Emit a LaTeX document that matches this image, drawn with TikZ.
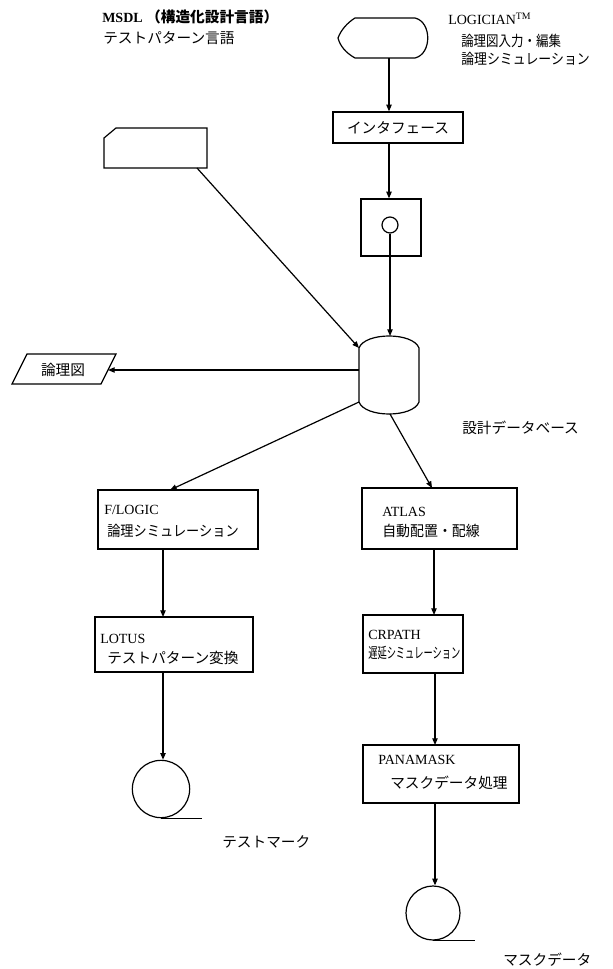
\documentclass[tikz,border=0pt]{standalone}
\usepackage{fontspec}
\usepackage{graphicx}
\setmainfont{Liberation Serif}
\newfontfamily\jp{Noto Sans CJK JP}
\usetikzlibrary{fit,arrows.meta}
\tikzset{
  ln/.style={line width=0.9pt},
  arr/.style={ln,-{Triangle[length=5pt,width=4pt]}},
  box/.style={draw,ln,inner sep=0pt},
  txt/.style={anchor=west,inner sep=0pt,font=\fontsize{10.5}{12}\selectfont},
  ctxt/.style={txt,anchor=center},
  tape/.style={draw,ln,circle,inner sep=0pt},
}
\newcommand{\hx}[2]{\scalebox{#1}[1]{#2}}
\begin{document}
\begin{tikzpicture}[x=0.75pt,y=-0.75pt]
\useasboundingbox (0,0) rectangle (612,969);

% ---- top-left texts
\node[txt] (msdl1) at (102,17) {\bfseries MSDL {\jp\fontsize{11}{12}\selectfont （構造化設計言語）}};
\node[txt] (msdl2) at (103,38) {\jp\fontsize{11}{12}\selectfont テストパターン言語};

% ---- LOGICIAN display shape
\draw[ln] (355,18) -- (415,18) .. controls (432,22) and (432,54) .. (415,58)
  -- (355,58) .. controls (346,53) and (340,46) .. (338,38)
  .. controls (341,30) and (347,23) .. (355,18) -- cycle;
\coordinate (logb) at (389,58);
\node[txt] (logt1) at (448,19) {LOGICIAN\textsuperscript{TM}};
\node[txt] (logt2) at (461,41) {\jp\fontsize{11}{12}\selectfont\hx{0.85}{論理図入力・編集}};
\node[txt] (logt3) at (461,59) {\jp\fontsize{11}{12}\selectfont\hx{0.88}{論理シミュレーション}};

% ---- interface box
\node[box,fit={(333,112)(463,143)}] (intf) {};
\node[ctxt] (intft) at (intf.center) {\jp\fontsize{11}{12}\selectfont インタフェース};

% ---- square with circle
\node[box,fit={(361,199)(421,256)}] (sq) {};
\node[tape,minimum size=12pt] (circ) at (390,225) {};

% ---- card
\draw[ln] (116,128) -- (207,128) -- (207,168) -- (104,168) -- (104,138) -- cycle;
\coordinate (cardout) at (197,168);

% ---- database
\draw[ln] (359,348) .. controls (365,332) and (413,332) .. (419,348)
  -- (419,402) .. controls (413,418) and (365,418) .. (359,402) -- cycle;
\coordinate (dbtop) at (390,336);
\coordinate (dbtl) at (359,348);
\coordinate (dbl) at (359,370);
\coordinate (dbbl) at (359,402);
\coordinate (dbb) at (390,414);
\node[txt] (dbt) at (462,428) {\jp\fontsize{11}{12}\selectfont 設計データベース};

% ---- parallelogram
\draw[ln] (12,384) -- (101,384) -- (116,354) -- (27,354) -- cycle;
\coordinate (parar) at (108,370);
\node[ctxt] (parat) at (63,370) {\jp\fontsize{11}{12}\selectfont 論理図};

% ---- F/LOGIC
\node[box,fit={(98,490)(258,549)}] (flogic) {};
\node[txt] (flt1) at (104,510) {F/LOGIC};
\node[txt] (flt2) at (107,531) {\jp\fontsize{11}{12}\selectfont\hx{0.9}{論理シミュレーション}};

% ---- LOTUS
\node[box,fit={(95,617)(253,672)}] (lotus) {};
\node[txt] (lot1) at (100,639) {LOTUS};
\node[txt] (lot2) at (107,658) {\jp\fontsize{11}{12}\selectfont テストパターン変換};

% ---- tape 1
\node[tape,minimum size=43pt] (tape1) at (161,789) {};
\draw[ln] (tape1.south) -- ++(41,0);
\node[txt] (tape1t) at (222,842) {\jp\fontsize{11}{12}\selectfont テストマーク};

% ---- ATLAS
\node[box,fit={(362,488)(517,549)}] (atlas) {};
\node[txt] (at1) at (382,512) {ATLAS};
\node[txt] (at2) at (382,531) {\jp\fontsize{11}{12}\selectfont\hx{0.95}{自動配置・配線}};

% ---- CRPATH
\node[box,fit={(363,615)(463,673)}] (crpath) {};
\node[txt] (cr1) at (368,635) {CRPATH};
\node[txt] (cr2) at (368,653) {\jp\fontsize{11}{12}\selectfont\hx{0.63}{遅延シミュレーション}};

% ---- PANAMASK
\node[box,fit={(363,745)(519,803)}] (pana) {};
\node[txt] (pa1) at (378,760) {PANAMASK};
\node[txt] (pa2) at (390,783) {\jp\fontsize{11}{12}\selectfont マスクデータ処理};

% ---- tape 2
\node[tape,minimum size=40.5pt] (tape2) at (433,913) {};
\draw[ln] (tape2.south) -- ++(42,0);
\node[txt] (tape2t) at (503,960) {\jp\fontsize{11}{12}\selectfont マスクデータ};

% ---- connectors
\draw[arr] (logb) -- (logb |- intf.north);
\draw[arr] (intf.south -| logb) -- (logb |- sq.north);
\draw[arr] (circ.south) -- (dbtop);
\draw[arr] (cardout) -- (dbtl);
\draw[arr] (dbl) -- (parar);
\draw[arr] (dbbl) -- (170,490);
\draw[arr] (dbb) -- (432,488);
\draw[arr] (163,549) -- (163,617);
\draw[arr] (163,672) -- (tape1.north -| 163,0);
\draw[arr] (434,549) -- (434,615);
\draw[arr] (435,673) -- (435,745);
\draw[arr] (435,803) -- (tape2.north -| 435,0);
\end{tikzpicture}
\end{document}
